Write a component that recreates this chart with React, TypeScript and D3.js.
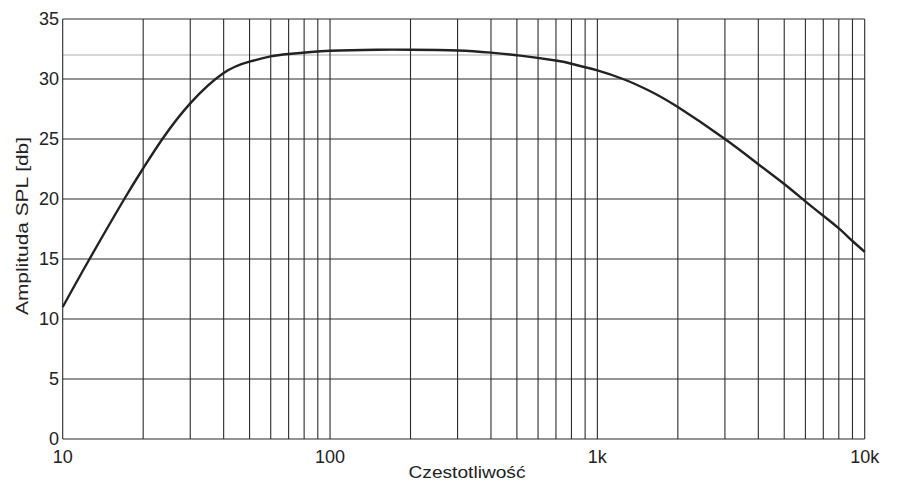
import React from "react";
import * as d3 from "d3";

const freqs = [10, 12.6, 17, 20, 23.6, 30, 40, 50, 60, 70, 100, 150, 200, 300, 400, 515, 708, 800, 900, 1000, 1247, 1571, 2000, 3000, 4000, 5000, 6000, 7000, 8000, 9000, 10000];
const spl = [11.0, 15.0, 20.0, 22.55, 25.0, 27.97, 30.5, 31.45, 31.88, 32.08, 32.35, 32.44, 32.44, 32.38, 32.2, 31.95, 31.52, 31.27, 30.98, 30.72, 30.0, 29.0, 27.66, 25.0, 22.9, 21.25, 19.8, 18.6, 17.55, 16.5, 15.6];

const yTicks = [0, 5, 10, 15, 20, 25, 30, 35];
const xTickValues = [10, 100, 1000, 10000];
const xTickLabels = ["10", "100", "1k", "10k"];
const referenceLevel = 32;
const xTitle = "Czestotliwość";
const yTitle = "Amplituda SPL [db]";

const W = 897;
const H = 484;
const left = 62.7;
const right = 864.7;
const top = 19;
const bottom = 439;

export default function App() {
  const x = d3.scaleLog().domain([10, 10000]).range([left, right]);
  const y = d3.scaleLinear().domain([0, 35]).range([bottom, top]);

  const gridX: number[] = [];
  for (let dec = 10; dec < 10000; dec *= 10) {
    for (let m = 1; m <= 9; m++) gridX.push(dec * m);
  }
  gridX.push(10000);

  const pts: [number, number][] = freqs.map((f, i) => [x(f), y(spl[i])]);
  const line = d3.line().curve(d3.curveNatural)(pts) || "";

  const font = "'Liberation Sans', Arial, sans-serif";
  const gridColor = "#2b2b2b";

  return (
    <svg width={W} height={H} style={{ position: "absolute", left: 0, top: 0, display: "block", background: "#fff" }}>
      <line x1={left} x2={right} y1={y(referenceLevel)} y2={y(referenceLevel)} stroke="#c8c8c8" strokeWidth={1.6} />
      {gridX.map((f, i) => (
        <line key={"gx" + i} x1={x(f)} x2={x(f)} y1={top} y2={bottom} stroke={gridColor} strokeWidth={1.1} />
      ))}
      {yTicks.map((t) => (
        <line key={"gy" + t} x1={left} x2={right} y1={y(t)} y2={y(t)} stroke={gridColor} strokeWidth={1.1} />
      ))}
      <path d={line} fill="none" stroke="#222" strokeWidth={2.4} />
      {yTicks.map((t) => (
        <text key={"yl" + t} x={59} y={y(t)} dy="0.36em" textAnchor="end" fontFamily={font} fontSize={18} fill="#222">
          {t}
        </text>
      ))}
      {xTickValues.map((v, i) => (
        <text key={"xl" + v} x={x(v)} y={463} textAnchor="middle" fontFamily={font} fontSize={18} fill="#222">
          {xTickLabels[i]}
        </text>
      ))}
      <text x={467} y={478} textAnchor="middle" fontFamily={font} fontSize={17} textLength={117} lengthAdjust="spacingAndGlyphs" fill="#222">
        {xTitle}
      </text>
      <text
        transform={`translate(28,${226}) rotate(-90)`}
        textAnchor="middle"
        fontFamily={font}
        fontSize={17}
        textLength={178}
        lengthAdjust="spacingAndGlyphs"
        fill="#222"
      >
        {yTitle}
      </text>
    </svg>
  );
}
